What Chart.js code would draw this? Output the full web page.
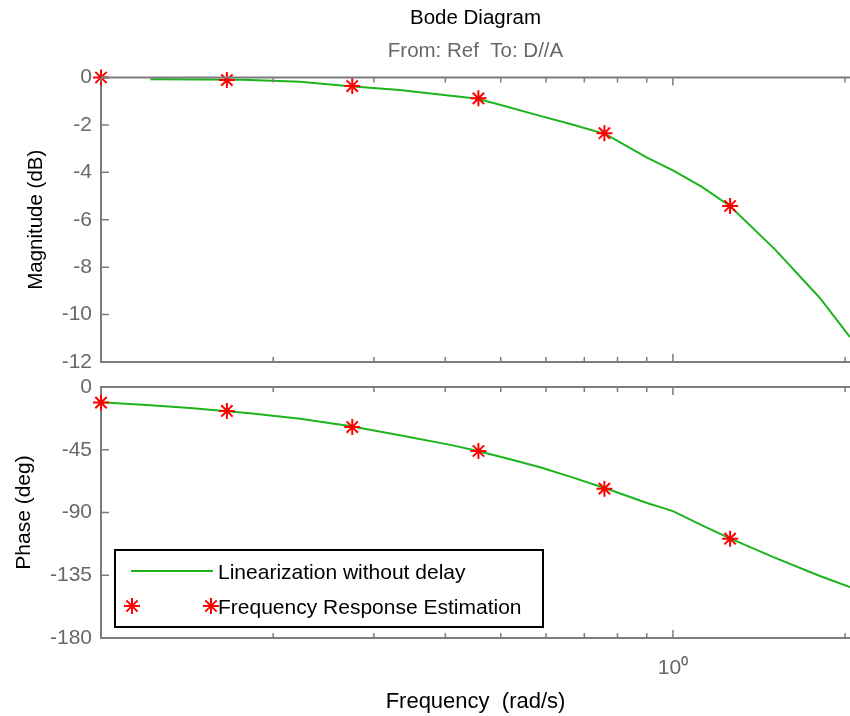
<!DOCTYPE html>
<html>
<head>
<meta charset="utf-8">
<title>Bode Diagram</title>
<script src="https://cdn.jsdelivr.net/npm/chart.js@4.4.1/dist/chart.umd.min.js"></script>
<style>
  html, body { margin: 0; padding: 0; background: #fff; }
  #wrap { position: relative; width: 850px; height: 716px; }
  #wrap canvas { position: absolute; left: 0; top: 0; }
</style>
</head>
<body>
<div id="wrap">
  <canvas id="mag" width="850" height="716"></canvas>
  <canvas id="phase" width="850" height="716"></canvas>
</div>
<script>
// frequency response estimation (red stars)
const estFreq  = [0.1, 0.166, 0.275, 0.457, 0.759, 1.259];
const estMag   = [0.0, -0.11, -0.36, -0.88, -2.35, -5.42];
const estPhase = [-11.2, -17.2, -28.7, -45.9, -72.9, -108.8];

// linearization without delay (green line)
const linMagFreq = [0.122, 0.15, 0.177, 0.223, 0.272, 0.333, 0.391, 0.456, 0.513, 0.586, 0.667, 0.764, 0.901, 1.0, 1.122, 1.258, 1.508, 1.807, 2.04];
const linMag     = [-0.07, -0.08, -0.1, -0.18, -0.37, -0.53, -0.72, -0.9, -1.23, -1.62, -1.98, -2.4, -3.38, -3.92, -4.6, -5.42, -7.25, -9.3, -10.95];
const linPhaseFreq = [0.1, 0.122, 0.143, 0.182, 0.223, 0.272, 0.333, 0.408, 0.456, 0.513, 0.586, 0.667, 0.764, 0.901, 1.0, 1.122, 1.258, 1.495, 1.807, 2.04];
const linPhase     = [-11.0, -13.0, -15.0, -18.8, -22.8, -28.0, -34.6, -41.5, -45.9, -51.3, -57.5, -64.8, -72.8, -83.2, -89.0, -99.0, -108.5, -121.8, -135.5, -143.5];

// ticks
const xTickValues = [0.1, 0.2, 0.3, 0.4, 0.5, 0.6, 0.7, 0.8, 0.9, 1, 2];
const xTickLabels = ['', '', '', '', '', '', '', '', '', '10\u2070', ''];
const magTicks   = [0, -2, -4, -6, -8, -10, -12];
const phaseTicks = [0, -45, -90, -135, -180];

const axisGray = '#7c7c7c';
const labelGray = '#686868';
const green = '#1cb41c';
const red = '#ff0000';

Chart.defaults.font.family = '"Liberation Sans", Arial, sans-serif';
Chart.defaults.font.size = 21;

const toXY = (xs, ys) => xs.map((x, i) => ({ x: x, y: ys[i] }));

// top border + inward tick marks, like the matlab box
const frame = {
  id: 'frame',
  afterDraw(chart) {
    const { ctx, chartArea: a, scales } = chart;
    ctx.save();
    ctx.strokeStyle = axisGray;
    ctx.lineWidth = 2;
    ctx.beginPath();
    ctx.moveTo(a.left, a.top);
    ctx.lineTo(a.right, a.top);
    ctx.stroke();
    ctx.lineWidth = 1.5;
    ctx.beginPath();
    xTickValues.forEach(v => {
      const px = scales.x.getPixelForValue(v);
      const len = v === 1 ? 8 : 5;
      ctx.moveTo(px, a.bottom); ctx.lineTo(px, a.bottom - len);
      ctx.moveTo(px, a.top); ctx.lineTo(px, a.top + len);
    });
    scales.y.ticks.forEach(t => {
      const py = scales.y.getPixelForValue(t.value);
      ctx.moveTo(a.left, py); ctx.lineTo(a.left + 8, py);
    });
    ctx.stroke();
    ctx.restore();
  }
};

// boxed legend inside the phase plot
const bodeLegend = {
  id: 'bodeLegend',
  afterDraw(chart) {
    const { ctx, chartArea: a } = chart;
    const line = chart.data.datasets[0];
    const est = chart.data.datasets[1];
    const left = a.left + 14, top = a.top + 163, w = 428, h = 77;
    ctx.save();
    ctx.fillStyle = '#fff';
    ctx.fillRect(left, top, w, h);
    ctx.strokeStyle = '#000';
    ctx.lineWidth = 2;
    ctx.strokeRect(left, top, w, h);

    ctx.strokeStyle = line.borderColor;
    ctx.lineWidth = line.borderWidth;
    ctx.beginPath();
    ctx.moveTo(left + 16, top + 21);
    ctx.lineTo(left + 98, top + 21);
    ctx.stroke();

    ctx.strokeStyle = est.borderColor;
    ctx.fillStyle = est.borderColor;
    const pt = { pointStyle: 'star', radius: est.pointRadius, rotation: 0, borderWidth: est.borderWidth };
    Chart.helpers.drawPoint(ctx, pt, left + 17, top + 56);
    Chart.helpers.drawPoint(ctx, pt, left + 96, top + 56);

    ctx.fillStyle = '#000';
    ctx.font = '21px "Liberation Sans", Arial, sans-serif';
    ctx.textBaseline = 'alphabetic';
    ctx.fillText(line.label, left + 103, top + 29);
    ctx.fillText(est.label, left + 103, top + 64);
    ctx.restore();
  }
};

function xScale(height, showLabels) {
  return {
    type: 'logarithmic',
    min: 0.1,
    max: 2.04,
    afterBuildTicks: s => { s.ticks = xTickValues.map(v => ({ value: v })); },
    afterFit: s => {
      s.height = height;
      s.paddingLeft = 0;
      s.paddingRight = 0;
    },
    grid: { drawOnChartArea: false, drawTicks: false },
    border: { color: axisGray, width: 2 },
    ticks: {
      display: showLabels,
      autoSkip: false,
      maxRotation: 0,
      color: labelGray,
      padding: 18,
      callback: (v, i) => xTickLabels[i]
    },
    title: {
      display: showLabels,
      text: 'Frequency  (rad/s)',
      color: '#000',
      font: { size: 22 },
      padding: { top: 0, bottom: 1 }
    }
  };
}

function yScale(min, max, tickArr, label, titlePad, titleSize) {
  return {
    min: min,
    max: max,
    afterBuildTicks: s => { s.ticks = tickArr.map(v => ({ value: v })); },
    afterFit: s => { s.width = 101; },
    grid: { drawOnChartArea: false, drawTicks: false },
    border: { color: axisGray, width: 2 },
    ticks: { color: labelGray, padding: 9 },
    title: {
      display: true,
      text: label,
      color: '#000',
      font: { size: titleSize },
      padding: { top: titlePad, bottom: 0 }
    }
  };
}

function datasets(lineData, estData) {
  return [
    {
      label: 'Linearization without delay',
      data: lineData,
      showLine: true,
      borderColor: green,
      borderWidth: 2,
      pointRadius: 0,
      tension: 0,
      order: 2
    },
    {
      label: 'Frequency Response Estimation',
      data: estData,
      showLine: false,
      pointStyle: 'star',
      pointRadius: 8,
      borderWidth: 2,
      borderColor: red,
      backgroundColor: red,
      clip: false,
      order: 1
    }
  ];
}

new Chart(document.getElementById('mag'), {
  type: 'scatter',
  data: { datasets: datasets(toXY(linMagFreq, linMag), toXY(estFreq, estMag)) },
  options: {
    responsive: false,
    animation: false,
    layout: { autoPadding: false, padding: { top: 0, left: 0, right: 0, bottom: 334 } },
    scales: {
      x: xScale(20, false),
      y: yScale(-12, 0, magTicks, 'Magnitude (dB)', 24, 20.5)
    },
    plugins: {
      legend: { display: false },
      tooltip: { enabled: false },
      title: {
        display: true,
        text: 'Bode Diagram',
        color: '#000',
        fullSize: false,
        font: { size: 20.5, weight: 'normal' },
        padding: { top: 6, bottom: 8 }
      },
      subtitle: {
        display: true,
        text: 'From: Ref  To: D//A',
        color: labelGray,
        fullSize: false,
        font: { size: 20.5 },
        padding: { top: 0, bottom: 14.3 }
      }
    }
  },
  plugins: [frame]
});

new Chart(document.getElementById('phase'), {
  type: 'scatter',
  data: { datasets: datasets(toXY(linPhaseFreq, linPhase), toXY(estFreq, estPhase)) },
  options: {
    responsive: false,
    animation: false,
    layout: { autoPadding: false, padding: { top: 387, left: 0, right: 0, bottom: 0 } },
    scales: {
      x: xScale(78, true),
      y: yScale(-180, 0, phaseTicks, 'Phase (deg)', 11.5, 21)
    },
    plugins: {
      legend: { display: false },
      tooltip: { enabled: false }
    }
  },
  plugins: [frame, bodeLegend]
});
</script>
</body>
</html>
